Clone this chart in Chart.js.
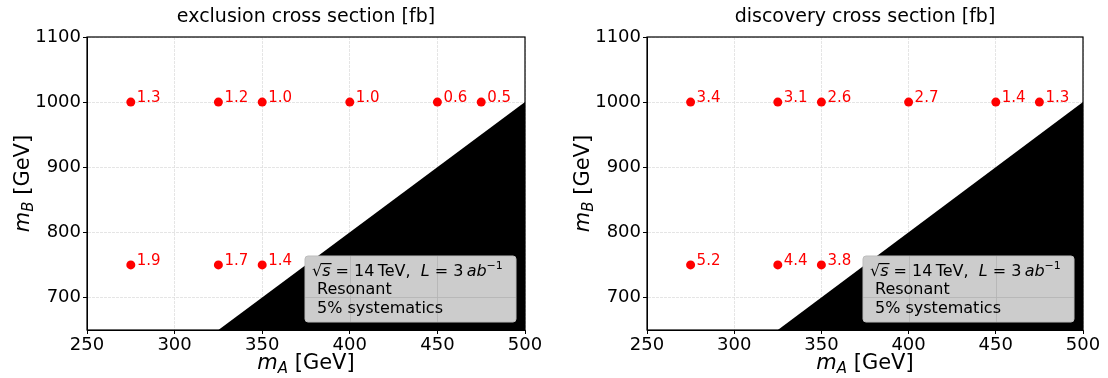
<!DOCTYPE html>
<html>
<head>
<meta charset="utf-8">
<script src="https://cdn.jsdelivr.net/npm/chart.js@4.4.1/dist/chart.umd.min.js"></script>
<style>
  body { margin: 0; background: #fff; }
  #wrap { width: 1108px; height: 378px; display: flex; }
  canvas { display: block; }
</style>
</head>
<body>
<div id="wrap">
  <canvas id="left" width="554" height="378"></canvas>
  <canvas id="right" width="554" height="378"></canvas>
</div>
<script>
// benchmark points (mA, mB) in GeV
var massA = [275, 325, 350, 400, 450, 475, 275, 325, 350];
var massB = [1000, 1000, 1000, 1000, 1000, 1000, 750, 750, 750];
// cross sections [fb]
var exclusion = [1.3, 1.2, 1.0, 1.0, 0.6, 0.5, 1.9, 1.7, 1.4];
var discovery = [3.4, 3.1, 2.6, 2.7, 1.4, 1.3, 5.2, 4.4, 3.8];
// kinematic edge mB = 2 mA
var edgeA = [325, 500];
var edgeB = [650, 1000];
var xTicks = [250, 300, 350, 400, 450, 500];
var yTicks = [700, 800, 900, 1000, 1100];
var xRange = [250, 500];
var yRange = [650, 1100];

var FONT = '"DejaVu Sans", sans-serif';

function fnt(size, italic) {
    return (italic ? 'italic ' : '') + size + 'px ' + FONT;
}

// draws text pieces one after another, returns end x
function drawParts(ctx, x, y, parts) {
    parts.forEach(function(p) {
        ctx.font = fnt(p.size, p.italic);
        var w = ctx.measureText(p.text).width;
        ctx.fillText(p.text, x, y + (p.dy || 0));
        if (p.over) {
            ctx.fillRect(x - 1, y - 13, w + 2, 1.2);
        }
        x += w;
    });
    return x;
}

var overlay = {
    id: 'overlay',
    afterDatasetsDraw: function(chart, args, opts) {
        var ctx = chart.ctx;
        var a = chart.chartArea;
        var xs = chart.scales.x, ys = chart.scales.y;
        ctx.save();

        // value labels
        ctx.fillStyle = '#ff0000';
        ctx.font = fnt(15);
        ctx.textBaseline = 'alphabetic';
        ctx.textAlign = 'left';
        opts.values.forEach(function(v, i) {
            ctx.fillText(v.toFixed(1), xs.getPixelForValue(massA[i]) + 6, ys.getPixelForValue(massB[i]));
        });

        // info box, lower right
        var bw = 211, bh = 66;
        var bx = a.right - 9 - bw, by = a.bottom - 8 - bh;
        ctx.beginPath();
        ctx.roundRect(bx, by, bw, bh, 3);
        ctx.fillStyle = '#cccccc';
        ctx.fill();
        ctx.strokeStyle = '#bdbdbd';
        ctx.lineWidth = 1;
        ctx.stroke();
        // grid lines seen through the box
        ctx.save();
        ctx.clip();
        ctx.strokeStyle = '#b3b3b3';
        ctx.lineWidth = 0.8;
        xTicks.forEach(function(t) {
            var px = Math.round(xs.getPixelForValue(t)) + 0.5;
            ctx.beginPath(); ctx.moveTo(px, by); ctx.lineTo(px, by + bh); ctx.stroke();
        });
        yTicks.forEach(function(t) {
            var py = Math.round(ys.getPixelForValue(t)) + 0.5;
            ctx.beginPath(); ctx.moveTo(bx, py); ctx.lineTo(bx + bw, py); ctx.stroke();
        });
        ctx.restore();

        ctx.fillStyle = '#000';
        drawParts(ctx, bx + 7, by + 20, [
            {text: '\u221A', size: 16},
            {text: 's', size: 16, italic: true, over: true},
            {text: ' = 14\u2009TeV,  ', size: 16},
            {text: 'L', size: 16, italic: true},
            {text: ' = 3\u2009', size: 16},
            {text: 'ab', size: 16, italic: true},
            {text: '\u22121', size: 11, dy: -7}
        ]);
        ctx.font = fnt(16);
        ctx.fillText('Resonant', bx + 12, by + 38);
        ctx.fillText('5% systematics', bx + 12, by + 57);

        // frame
        ctx.strokeStyle = '#000';
        ctx.lineWidth = 1.2;
        ctx.strokeRect(a.left, a.top, a.right - a.left, a.bottom - a.top);

        // title
        var cx = (a.left + a.right) / 2;
        ctx.font = fnt(19);
        ctx.textAlign = 'center';
        ctx.fillText(opts.title, cx, 22);

        // x axis title
        ctx.textAlign = 'left';
        var parts = [
            {text: 'm', size: 21, italic: true},
            {text: 'A', size: 15, italic: true, dy: 4},
            {text: ' [GeV]', size: 21}
        ];
        var w = 0;
        parts.forEach(function(p) { ctx.font = fnt(p.size, p.italic); w += ctx.measureText(p.text).width; });
        drawParts(ctx, cx - w / 2, 369, parts);

        // y axis title
        var cy = (a.top + a.bottom) / 2;
        var yparts = [
            {text: 'm', size: 21, italic: true},
            {text: 'B', size: 15, italic: true, dy: 4},
            {text: ' [GeV]', size: 21}
        ];
        w = 0;
        yparts.forEach(function(p) { ctx.font = fnt(p.size, p.italic); w += ctx.measureText(p.text).width; });
        ctx.translate(a.left - 58, cy);
        ctx.rotate(-Math.PI / 2);
        drawParts(ctx, -w / 2, 0, yparts);

        ctx.restore();
    }
};

function makeChart(id, title, values, yWidth, rightPad) {
    var points = massA.map(function(m, i) { return {x: m, y: massB[i]}; });
    var edge = edgeA.map(function(m, i) { return {x: m, y: edgeB[i]}; });
    var tickFont = {family: FONT, size: 18};

    return new Chart(document.getElementById(id), {
        type: 'scatter',
        data: {
            datasets: [
                {
                    data: points,
                    backgroundColor: '#ff0000',
                    borderWidth: 0,
                    pointRadius: 4.5,
                    pointHoverRadius: 4.5
                },
                {
                    data: edge,
                    showLine: true,
                    fill: 'start',
                    backgroundColor: '#000000',
                    borderColor: '#000000',
                    borderWidth: 0,
                    pointRadius: 0
                }
            ]
        },
        options: {
            responsive: false,
            animation: false,
            events: [],
            layout: {padding: {top: 37, right: rightPad, left: 0, bottom: 0}},
            plugins: {
                legend: {display: false},
                tooltip: {enabled: false},
                overlay: {title: title, values: values}
            },
            scales: {
                x: {
                    type: 'linear',
                    min: xRange[0],
                    max: xRange[1],
                    afterBuildTicks: function(s) { s.ticks = xTicks.map(function(v) { return {value: v}; }); },
                    afterFit: function(s) { s.height = 48; },
                    ticks: {font: tickFont, color: '#000', padding: 1, maxRotation: 0,
                            callback: function(v) { return String(v); }},
                    grid: {color: '#dedede', lineWidth: 0.8, tickColor: '#000', tickLength: 4, tickWidth: 1},
                    border: {display: true, color: '#000', dash: [3, 1]}
                },
                y: {
                    type: 'linear',
                    min: yRange[0],
                    max: yRange[1],
                    afterBuildTicks: function(s) { s.ticks = yTicks.map(function(v) { return {value: v}; }); },
                    afterFit: function(s) { s.width = yWidth; },
                    ticks: {font: tickFont, color: '#000', padding: 2,
                            callback: function(v) { return String(v); }},
                    grid: {color: '#dedede', lineWidth: 0.8, tickColor: '#000', tickLength: 4, tickWidth: 1},
                    border: {display: true, color: '#000', dash: [3, 1]}
                }
            }
        },
        plugins: [overlay]
    });
}

makeChart('left', 'exclusion cross section [fb]', exclusion, 87, 29);
makeChart('right', 'discovery cross section [fb]', discovery, 93, 25);
</script>
</body>
</html>
